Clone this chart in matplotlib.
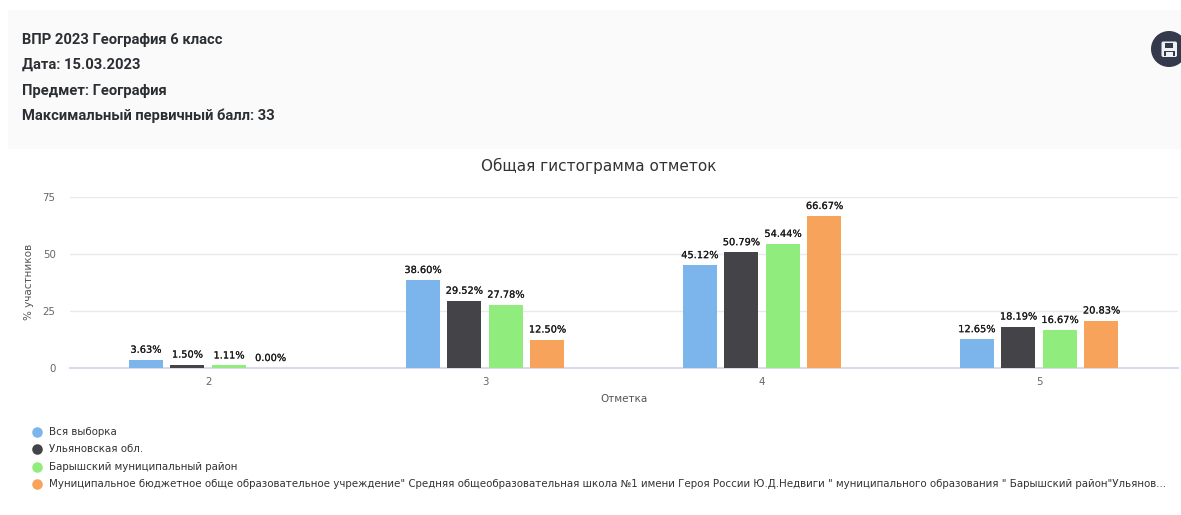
import matplotlib
matplotlib.use("Agg")
import matplotlib.pyplot as plt
import matplotlib.patheffects as pe
from matplotlib.patches import Rectangle, Circle, FancyBboxPatch
import numpy as np

W, H = 1181, 515
categories = ["2", "3", "4", "5"]
series_names = [
    "Вся выборка",
    "Ульяновская обл.",
    "Барышский муниципальный район",
    "Муниципальное бюджетное обще образовательное учреждение\" Средняя общеобразовательная школа №1 имени Героя России Ю.Д.Недвиги \" муниципального образования \" Барышский район\"Ульянов...",
]
colors = ["#7cb5ec", "#434348", "#90ed7d", "#f7a35c"]
vsya = [3.63, 38.60, 45.12, 12.65]
oblast = [1.50, 29.52, 50.79, 18.19]
rayon = [1.11, 27.78, 54.44, 16.67]
shkola = [0.00, 12.50, 66.67, 20.83]
series = [vsya, oblast, rayon, shkola]
yticks = [0, 25, 50, 75]
header_lines = ["ВПР 2023 География 6 класс", "Дата: 15.03.2023", "Предмет: География",
                "Максимальный первичный балл: 33"]

fig = plt.figure(figsize=(W / 100, H / 100), dpi=100, facecolor="white")
bg = fig.add_axes([0, 0, 1, 1], zorder=0)
bg.set_xlim(0, W); bg.set_ylim(H, 0); bg.axis("off")

# header panel
bg.add_patch(Rectangle((8, 10), W - 8, 139, fc="#fafafa", ec="none"))
for y, t in zip([40, 65, 90.5, 115.5], header_lines):
    bg.text(22, y, t, family="Roboto", fontweight="bold", fontsize=10.65, color="#2b2f33",
            va="center", ha="left")

# save button
dark = "#343a4c"
light = "#eef0f4"
bg.add_patch(Circle((1169, 49), 18, fc=dark, ec="none"))
bg.add_patch(FancyBboxPatch((1161.5, 41.5), 15.5, 15.5, boxstyle="round,pad=0,rounding_size=1.8",
                            fc=light, ec="none"))
bg.add_patch(Rectangle((1164.5, 43), 8, 4.5, fc=dark, ec="none"))
bg.add_patch(Rectangle((1164, 50.5), 10.5, 5, fc=dark, ec="none"))
bg.add_patch(Rectangle((1166, 52), 6.5, 3.5, fc=light, ec="none"))

# title
bg.text(598.5, 166, "Общая гистограмма отметок", family="DejaVu Sans", fontsize=10.95,
        color="#333333", ha="center", va="center")

# plot area
left, right, top, bottom = 69.5, 1177.5, 197, 368
ax = fig.add_axes([left / W, 1 - bottom / H, (right - left) / W, (bottom - top) / H], zorder=1)
ax.patch.set_alpha(0)
x = np.arange(len(categories))
offsets = [-1.5, -0.5, 0.5, 1.5]
step = 0.15
stroke = [pe.withStroke(linewidth=0.12, foreground="#222222")]
for vals, col, off in zip(series, colors, offsets):
    ax.bar(x + off * step, vals, width=0.122, color=col, edgecolor="none", zorder=3)
    for xi, v in zip(x, vals):
        ax.annotate(f"{v:.2f}%", (xi + off * step, v), xytext=(0, 3.6), textcoords="offset points",
                    ha="center", va="bottom", fontsize=7.05, color="#1a1a1a",
                    family="DejaVu Sans", zorder=4, path_effects=stroke, annotation_clip=False)
ax.set_xlim(-0.5, 3.5)
ax.set_ylim(0, 75)
ax.set_yticks(yticks)
ax.set_xticks(x, categories)
ax.grid(axis="y", color="#e9e9f0", linewidth=1)
ax.set_axisbelow(True)
for s in ["top", "right", "left"]:
    ax.spines[s].set_visible(False)
ax.spines["bottom"].set_color("#d8dcee")
ax.spines["bottom"].set_linewidth(1.5)
ax.tick_params(axis="both", length=0, labelsize=7.4, labelcolor="#666666")
ax.tick_params(axis="x", pad=6.5)
ax.tick_params(axis="y", pad=10)
bg.text(624, 399, "Отметка", fontsize=7.5, color="#555555", ha="center", va="center")
bg.text(29, 282, "% участников", fontsize=7.5, color="#555555", ha="center", va="center", rotation=90)

# legend
for y, name, col in zip([432, 449, 467, 484], series_names, colors):
    bg.plot([37], [y - 0.5], "o", ms=7.6, color=col, mec="none")
    bg.text(49, y, name, fontsize=7.35, color="#333333", ha="left", va="center")

fig.savefig("out.png", dpi=100)
